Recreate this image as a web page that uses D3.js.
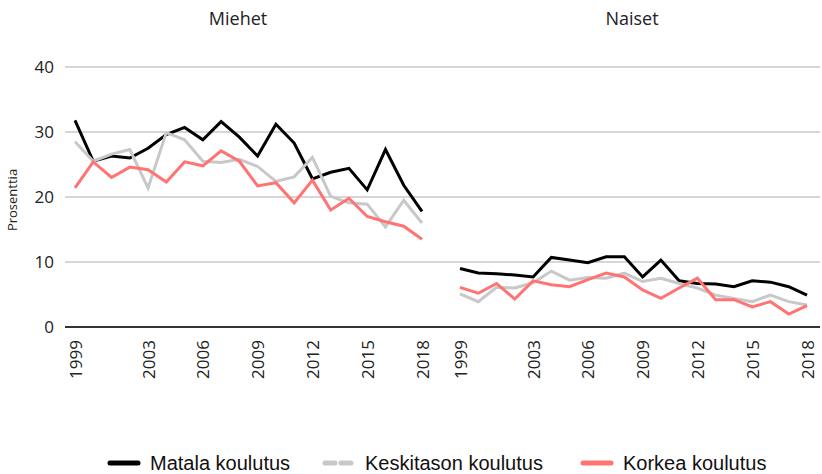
<!DOCTYPE html>
<html><head><meta charset="utf-8">
<script src="https://cdn.jsdelivr.net/npm/d3@7"></script>
<style>body{margin:0;background:#fff}svg{display:block}</style>
</head><body>
<script>
const years = d3.range(1999, 2019);
const tickYears = [1999, 2003, 2006, 2009, 2012, 2015, 2018];
const yTicks = [0, 10, 20, 30, 40];
const panels = ["Miehet", "Naiset"];
const seriesNames = ["Matala koulutus", "Keskitason koulutus", "Korkea koulutus"];
const colors = ["#000000", "#c8c8c8", "#ff7373"];

const menLow = [31.8,25.5,26.3,26.0,27.5,29.6,30.7,28.8,31.6,29.2,26.3,31.2,28.3,22.8,23.8,24.4,21.1,27.3,21.8,17.8];
const menMid = [28.5,25.5,26.6,27.3,21.4,29.9,28.8,25.5,25.3,25.8,24.7,22.4,23.1,26.1,20.1,19.1,18.9,15.4,19.5,16.0];
const menHigh = [21.4,25.4,23.0,24.6,24.2,22.3,25.4,24.8,27.1,25.5,21.7,22.2,19.1,22.6,18.0,19.8,17.0,16.2,15.5,13.5];
const womenLow = [9.0,8.3,8.2,8.0,7.7,10.7,10.3,9.9,10.8,10.8,7.7,10.3,7.1,6.7,6.6,6.2,7.1,6.9,6.2,4.9];
const womenMid = [5.1,3.9,6.1,6.0,6.8,8.6,7.2,7.6,7.5,8.3,7.0,7.5,6.7,6.0,4.9,4.4,3.9,4.9,3.9,3.4];
const womenHigh = [6.1,5.2,6.7,4.3,7.1,6.5,6.2,7.3,8.3,7.7,5.7,4.4,6.0,7.5,4.2,4.2,3.1,3.9,2.0,3.3];

const data = [[menLow, menMid, menHigh],[womenLow, womenMid, womenHigh]];

const W = 822, H = 474;
const svg = d3.select("body").append("svg").attr("width", W).attr("height", H);
const font = "'Open Sans', sans-serif";

const y = d3.scaleLinear().domain([0, 40]).range([327, 67]);
const xs = [
  d3.scaleLinear().domain([1999, 2018]).range([75, 422]),
  d3.scaleLinear().domain([1999, 2018]).range([460, 807])
];

// gridlines
const gridX0 = 65, gridX1 = 820;
svg.append("g").selectAll("line").data(yTicks.filter(d => d > 0)).join("line")
  .attr("x1", gridX0).attr("x2", gridX1)
  .attr("y1", d => y(d)).attr("y2", d => y(d))
  .attr("stroke", "#c8c8c8").attr("stroke-width", 1.5);

// y axis labels
const yAxis = d3.axisLeft(y).tickValues(yTicks).tickSize(0).tickPadding(0);
const ya = svg.append("g").attr("transform", "translate(54,0)").call(yAxis);
ya.select(".domain").remove();
ya.selectAll("text").attr("font-family", font).attr("font-size", 17).attr("fill", "#222");

// zero baseline
svg.append("line").attr("x1", gridX0).attr("x2", gridX1)
  .attr("y1", y(0)).attr("y2", y(0)).attr("stroke", "#333").attr("stroke-width", 2);

// panels
panels.forEach((p, i) => {
  const x = xs[i];
  const xa = svg.append("g").attr("transform", "translate(0,340)")
    .call(d3.axisBottom(x).tickValues(tickYears).tickFormat(d3.format("d")).tickSize(0).tickPadding(0));
  xa.select(".domain").remove();
  xa.selectAll(".tick text").attr("font-family", font).attr("font-size", 17).attr("fill", "#222")
    .attr("transform", "rotate(-90)")
    .attr("x", 0).attr("y", 0).attr("dy", "0.36em").attr("text-anchor", "end");

  svg.append("text").attr("x", i === 0 ? 238 : 632).attr("y", 25)
    .attr("text-anchor", "middle").attr("font-family", font).attr("font-size", 18).attr("fill", "#222").text(p);

  const line = d3.line().x((d, j) => x(years[j])).y(d => y(d));
  data[i].forEach((s, k) => {
    svg.append("path").datum(s).attr("d", line).attr("fill", "none")
      .attr("stroke", colors[k]).attr("stroke-width", 3).attr("stroke-linejoin", "miter");
  });
});

svg.append("text").attr("transform", "translate(17,200) rotate(-90)")
  .attr("text-anchor", "middle").attr("font-family", font).attr("font-size", 13).attr("fill", "#222").text("Prosenttia");

// legend
const legX = [110, 325, 583];
const legFont = "'Liberation Sans Narrow', 'Arial Narrow', sans-serif";
seriesNames.forEach((n, k) => {
  const g = svg.append("g").attr("transform", `translate(${legX[k]},463)`);
  g.append("line").attr("x1", 0).attr("x2", 28).attr("y1", 0).attr("y2", 0)
    .attr("stroke", colors[k]).attr("stroke-width", 5).attr("stroke-linecap", "round")
    .attr("stroke-dasharray", k === 1 ? "10,6" : null);
  g.append("text").attr("x", 40).attr("y", 7).attr("font-family", legFont).attr("font-size", 20)
    .attr("fill", "#111").text(n);
});
</script>
</body></html>
